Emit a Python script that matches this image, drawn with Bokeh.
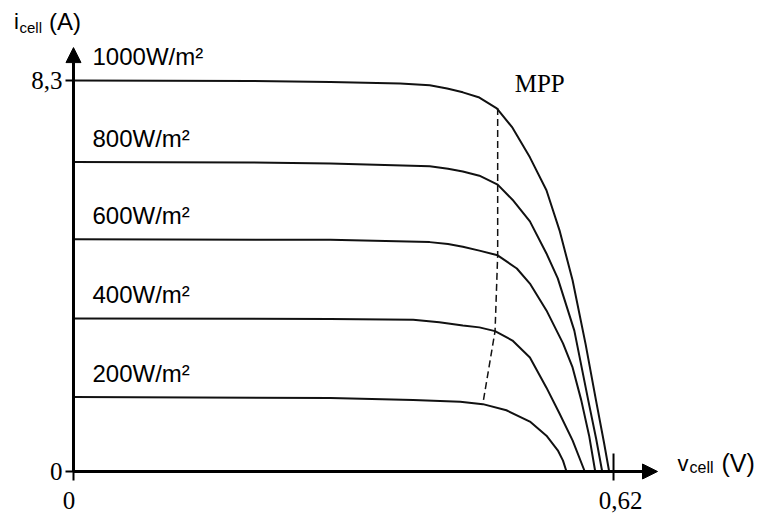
from bokeh.plotting import figure
from bokeh.models import Arrow, NormalHead, Range1d, ColumnDataSource
from bokeh.core.properties import value
from bokeh.embed import file_html
from bokeh.resources import INLINE

# ---- data ----
v1000 = [0, 0.203, 0.295, 0.375, 0.409, 0.429, 0.447, 0.466, 0.486, 0.504, 0.524, 0.543, 0.558, 0.573, 0.588, 0.600, 0.609, 0.615]
i1000 = [8.30, 8.29, 8.27, 8.24, 8.20, 8.13, 8.05, 7.94, 7.71, 7.30, 6.67, 5.97, 5.12, 4.06, 2.70, 1.50, 0.62, 0]

v800 = [0, 0.203, 0.295, 0.409, 0.430, 0.447, 0.466, 0.487, 0.504, 0.524, 0.543, 0.556, 0.575, 0.591, 0.600, 0.607]
i800 = [6.57, 6.56, 6.54, 6.48, 6.43, 6.37, 6.28, 6.09, 5.77, 5.31, 4.63, 4.10, 2.99, 1.51, 0.70, 0]

v600 = [0, 0.295, 0.409, 0.430, 0.447, 0.466, 0.487, 0.509, 0.524, 0.543, 0.562, 0.573, 0.583, 0.592, 0.599]
i600 = [4.93, 4.92, 4.87, 4.83, 4.77, 4.69, 4.59, 4.31, 3.99, 3.42, 2.72, 2.21, 1.51, 0.76, 0]

v400 = [0, 0.295, 0.390, 0.420, 0.447, 0.466, 0.484, 0.504, 0.524, 0.543, 0.558, 0.573, 0.587]
i400 = [3.25, 3.24, 3.22, 3.17, 3.10, 3.06, 2.98, 2.78, 2.42, 1.78, 1.23, 0.66, 0]

v200 = [0, 0.295, 0.390, 0.444, 0.470, 0.497, 0.524, 0.543, 0.556, 0.562, 0.566]
i200 = [1.58, 1.56, 1.52, 1.48, 1.43, 1.30, 1.06, 0.76, 0.45, 0.23, 0]

v_mpp = [0.487, 0.487, 0.487, 0.484, 0.470]
i_mpp = [7.72, 6.09, 4.59, 2.98, 1.44]

irr_labels = ["1000W/m²", "800W/m²", "600W/m²", "400W/m²", "200W/m²"]
x_ticks = [0, 0.62]
x_tick_labels = ["0", "0,62"]
y_ticks = [0, 8.3]
y_tick_labels = ["0", "8,3"]
x_arrow_end = 0.6705
y_arrow_end = 9.0

# ---- figure: the frame fills the whole canvas, axes drawn by hand ----
W, H = 766, 515
X0, X1 = -0.08381, 0.79564
Y0, Y1 = -0.9342, 10.0
PX = W / (X1 - X0)   # pixels per volt
PY = H / (Y1 - Y0)   # pixels per amp

p = figure(width=W, height=H, x_range=Range1d(X0, X1), y_range=Range1d(Y0, Y1),
           output_backend="svg", toolbar_location=None, tools="",
           x_axis_location=None, y_axis_location=None, min_border=0)
p.grid.visible = False
p.outline_line_color = None
p.background_fill_color = "white"
p.border_fill_color = "white"

# axes with arrow heads
for xs, ys, xe, ye in [(0, 0, x_arrow_end, 0), (0, 0, 0, y_arrow_end)]:
    p.add_layout(Arrow(end=NormalHead(size=15, fill_color="black", line_color="black", line_width=1),
                       x_start=xs, y_start=ys, x_end=xe, y_end=ye,
                       line_width=3, line_color="black"))

# ticks
p.segment(x0=[-8 / PX] * len(y_ticks), y0=y_ticks, x1=[0] * len(y_ticks), y1=y_ticks,
          line_color="black", line_width=2)
p.segment(x0=x_ticks, y0=[-9 / PY] * len(x_ticks), x1=x_ticks, y1=[18 / PY] * len(x_ticks),
          line_color="black", line_width=2)

# tick labels
p.text(x=[-11 / PX] * len(y_ticks), y=y_ticks, text=y_tick_labels,
       text_font=value("Liberation Serif"), text_font_size="25px",
       text_align="right", text_baseline="middle", text_color="black")
p.text(x=x_ticks, y=[-29 / PY] * len(x_ticks), text=x_tick_labels, x_offset=[-4.5, 7],
       text_font=value("Liberation Serif"), text_font_size="25px",
       text_align="center", text_baseline="middle", text_color="black")

# I-V curves
for vv, ii in [(v1000, i1000), (v800, i800), (v600, i600), (v400, i400), (v200, i200)]:
    p.line(vv, ii, line_color="#111111", line_width=2, line_join="round")

# MPP locus
p.line(v_mpp, i_mpp, line_color="#111111", line_width=1.5, line_dash="7 4")

# irradiance labels, just above each curve's plateau
levels = [i1000[0], i800[0], i600[0], i400[0], i200[0]]
src = ColumnDataSource(dict(x=[19 / PX] * 5, y=[lv + 24 / PY for lv in levels], t=irr_labels))
p.text(x="x", y="y", text="t", source=src, text_font=value("Liberation Sans"),
       text_font_size="24px", text_baseline="middle", text_align="left", text_color="black")

# MPP label
p.text(x=[v_mpp[0] + 17 / PX], y=[i_mpp[0] + 24 / PY], text=["MPP"],
       text_font=value("Liberation Serif"), text_font_size="25px",
       text_baseline="middle", text_align="left", text_color="black")

# axis titles with subscripts
def add_txt(xp, yp, t, size):
    # xp, yp: offsets in pixels from the axes origin
    p.text(x=[xp / PX], y=[yp / PY], text=[t], text_font=value("Liberation Sans"),
           text_font_size=size, text_baseline="middle", text_align="left", text_color="black")

add_txt(-59.5, 450, "i", "22px")
add_txt(-54, 443.5, "cell", "15px")
add_txt(-24.5, 450, "(A)", "24px")

add_txt(604, 8, "v", "22px")
add_txt(616, 4, "cell", "16px")
add_txt(648, 8, "(V)", "25px")

open("out.html", "w").write(file_html(p, INLINE))
